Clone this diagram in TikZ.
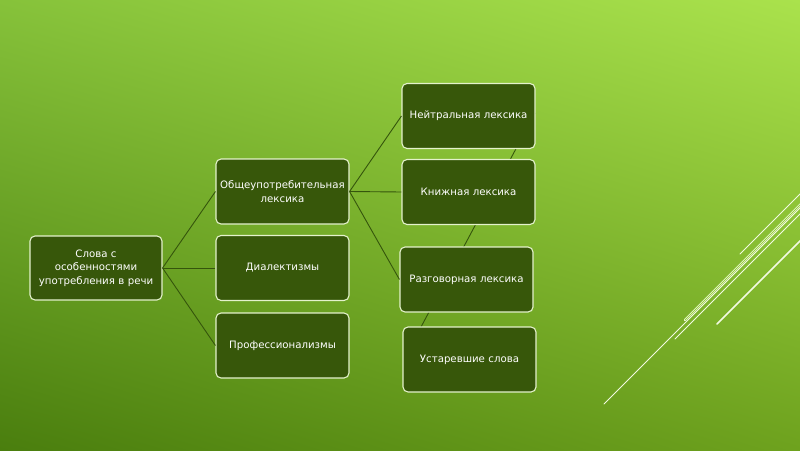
\documentclass[tikz,border=0pt]{standalone}
\usepackage{fontspec}
\setmainfont{DejaVu Sans}
\usetikzlibrary{shadings}
\definecolor{boxfill}{HTML}{37570A}
\definecolor{boxline}{HTML}{E4F2CC}
\definecolor{edgecol}{HTML}{35550C}
\definecolor{deco}{HTML}{F2FAE2}
\definecolor{bgTL}{HTML}{86C23A}
\definecolor{bgTR}{HTML}{AAE24C}
\definecolor{bgBL}{HTML}{4A7E0E}
\definecolor{bgBR}{HTML}{6EA21E}
\tikzset{
  box/.style={draw=boxline, line width=1.1pt, fill=boxfill, rounded corners=5pt,
    minimum width=133pt, minimum height=65pt, text width=132pt, align=center,
    text=white, font=\fontsize{10.2}{13.5}\selectfont, inner sep=0pt},
  conn/.style={draw=edgecol, line width=0.9pt},
  decoline/.style={draw=deco, line cap=round}
}
\begin{document}
\begin{tikzpicture}[x=1pt,y=-1pt]
\useasboundingbox (0,0) rectangle (800,450);
\shade[upper left=bgTL, upper right=bgTR, lower left=bgBL, lower right=bgBR] (0,0) rectangle (800,450);
\begin{scope}
\clip (0,0) rectangle (800,450);
\draw[decoline, line width=0.8pt] (604,404) -- (812,196);
\draw[decoline, line width=0.8pt] (675,339) -- (812,202);
\draw[decoline, line width=0.7pt, double=bgTR!70!bgBR, double distance=0.9pt] (685,320) -- (812,193);
\draw[decoline, line width=0.8pt] (740,254) -- (812,182);
\draw[decoline, line width=1.5pt] (717,324) -- (812,229);
\end{scope}
\coordinate (ucorner) at (421,327);
\coordinate (nstart) at (535,113);
\draw[conn] (nstart) -- (ucorner);
\node[box, minimum width=132pt, minimum height=64pt] (root) at (96,268) {Слова с\\особенностями\\употребления в речи};
\node[box] (a) at (282.5,191.5) {Общеупотребительная\\лексика};
\node[box] (b) at (282.5,268) {Диалектизмы};
\node[box] (c) at (282.5,345.5) {Профессионализмы};
\node[box] (n) at (468.5,116) {Нейтральная лексика};
\node[box] (k) at (468.5,192) {Книжная лексика};
\node[box] (r) at (466.5,279.5) {Разговорная лексика};
\node[box] (u) at (469.5,359.5) {Устаревшие слова};
\draw[conn] (root.east) -- (a.west);
\draw[conn] (root.east) -- (b.west);
\draw[conn] (root.east) -- (c.west);
\draw[conn] (a.east) -- (n.west);
\draw[conn] (a.east) -- (k.west);
\draw[conn] (a.east) -- (r.west);
\end{tikzpicture}
\end{document}
